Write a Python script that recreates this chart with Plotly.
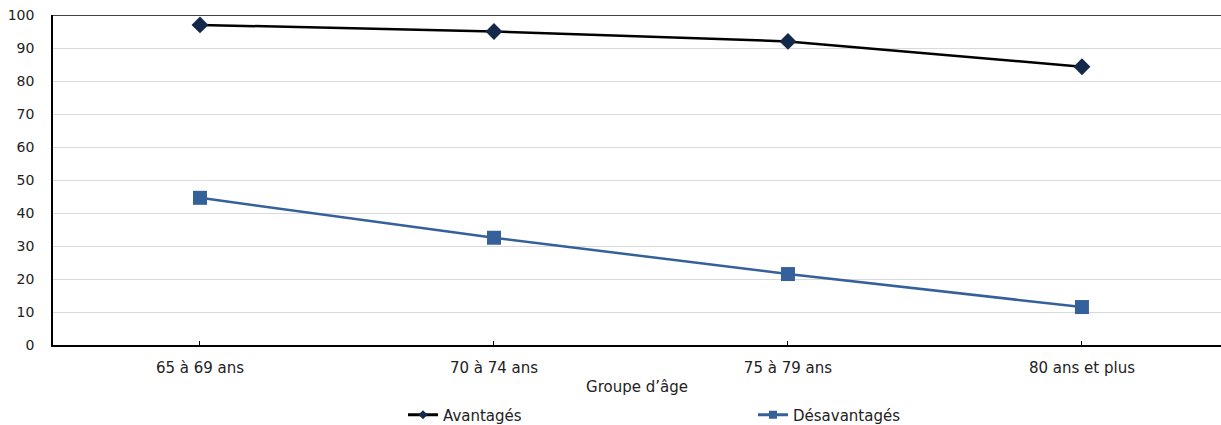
import plotly.graph_objects as go

categories = ["65 à 69 ans", "70 à 74 ans", "75 à 79 ans", "80 ans et plus"]
avantages = [97.0, 95.0, 92.0, 84.3]
desavantages = [44.6, 32.5, 21.5, 11.5]
y_ticks = [0, 10, 20, 30, 40, 50, 60, 70, 80, 90, 100]

FONT = "DejaVu Sans, Verdana, sans-serif"
C_AV_LINE = "#000000"
C_AV_MARK = "#14294a"
C_DES = "#36609a"

fig = go.Figure()
fig.add_trace(go.Scatter(
    x=categories, y=avantages, name="Avantagés", mode="lines+markers",
    line=dict(color=C_AV_LINE, width=2.5),
    marker=dict(symbol="diamond", size=13, color=C_AV_MARK),
    showlegend=False,
))
fig.add_trace(go.Scatter(
    x=categories, y=desavantages, name="Désavantagés", mode="lines+markers",
    line=dict(color=C_DES, width=2.5),
    marker=dict(symbol="square", size=14, color=C_DES),
    showlegend=False,
))
# legend-only entries with smaller markers, as in the reference legend
fig.add_trace(go.Scatter(
    x=[None], y=[None], name="Avantagés", mode="lines+markers",
    line=dict(color=C_AV_LINE, width=3),
    marker=dict(symbol="diamond", size=7, color=C_AV_MARK),
))
fig.add_trace(go.Scatter(
    x=[None], y=[None], name="Désavantagés", mode="lines+markers",
    line=dict(color=C_DES, width=3),
    marker=dict(symbol="square", size=8, color=C_DES),
))

fig.add_shape(type="line", xref="paper", yref="y", x0=0, x1=1, y0=100, y1=100,
              line=dict(color="#404040", width=2))

fig.update_layout(
    width=1221, height=425,
    margin=dict(l=53, r=0, t=15, b=80),
    paper_bgcolor="white", plot_bgcolor="white",
    font=dict(family=FONT, size=15, color="#222222"),
    showlegend=True,
    legend=dict(orientation="h", xref="container", yref="container",
                x=403 / 1221, xanchor="left", y=10 / 425, yanchor="middle",
                entrywidth=305, entrywidthmode="pixels",
                font=dict(size=15), bgcolor="rgba(0,0,0,0)"),
    xaxis=dict(
        type="category", range=[-0.5, 3.473],
        showline=True, linecolor="#000000", linewidth=1.5,
        ticks="inside", ticklen=4, tickcolor="#000000",
        showgrid=False, automargin=False,
        title=dict(text="Groupe d’âge", standoff=6, font=dict(size=15)),
        tickfont=dict(size=15), ticklabelstandoff=8,
    ),
    yaxis=dict(
        range=[0, 100], tickvals=y_ticks,
        showline=True, linecolor="#000000", linewidth=1.5,
        showgrid=True, gridcolor="#d9d9d9", gridwidth=1,
        zeroline=False, ticks="", tickfont=dict(size=14),
        automargin=False, ticklabelstandoff=14,
    ),
)

fig.write_html("out.html", config={"displayModeBar": False},
               post_script="document.body.style.margin='0';")
